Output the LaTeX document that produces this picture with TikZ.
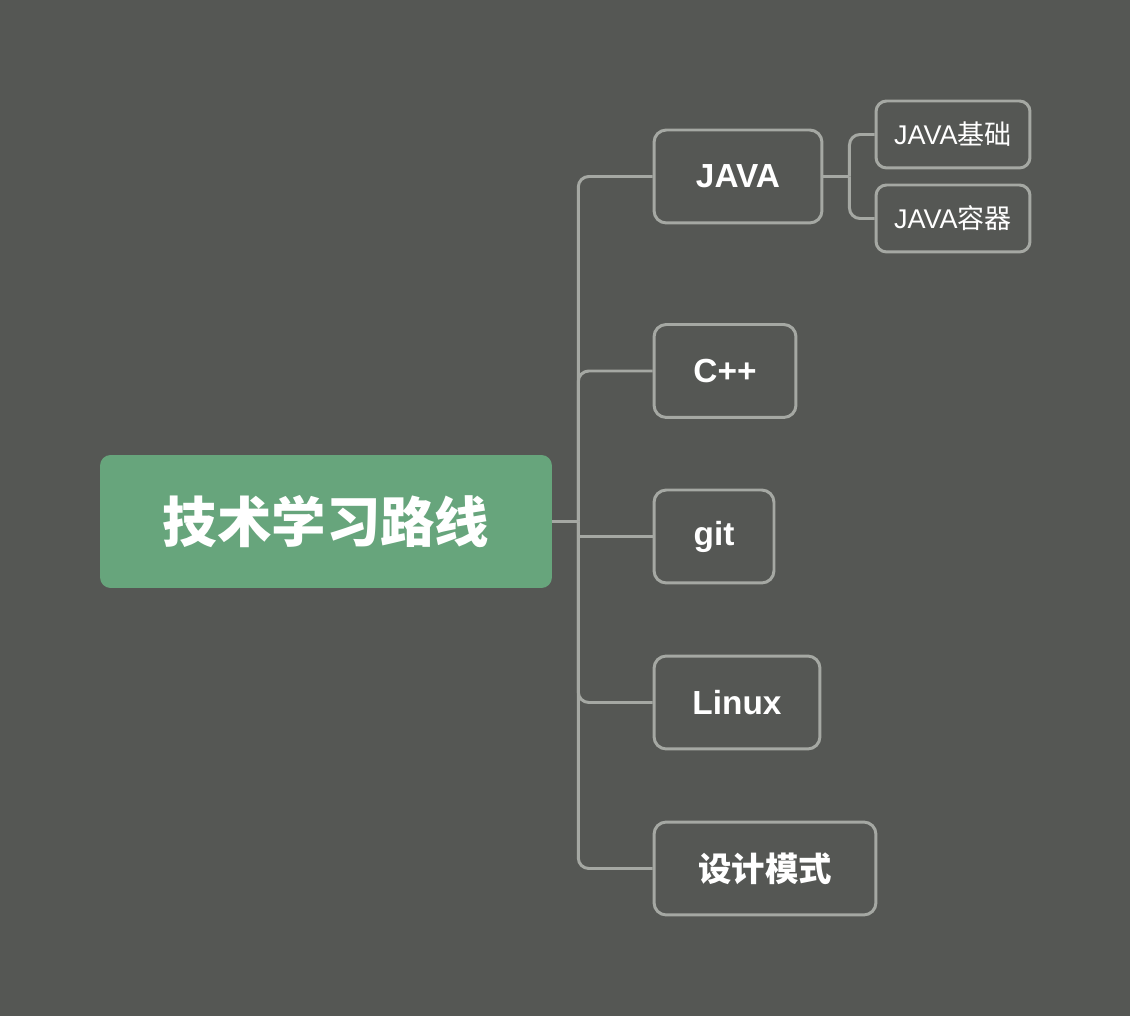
\documentclass[tikz,border=0pt]{standalone}
\usepackage{fontspec}
\setmainfont{Liberation Sans}
\newfontfamily\cjk{Noto Sans CJK SC}
\usepackage{xcolor}
\definecolor{mapBg}{RGB}{85, 87, 84}
\definecolor{mapGreen}{RGB}{103, 165, 124}
\definecolor{mapLine}{RGB}{165, 168, 163}
\usepackage{tikz}
\usetikzlibrary{positioning,calc}

\begin{document}
\begin{tikzpicture}[
  x=0.02cm, y=-0.02cm,
  topic/.style={draw=mapLine, line width=1.7pt, rectangle, rounded corners=7pt,
                minimum height=1.86cm, text=white, font=\fontsize{19}{22}\selectfont\bfseries,
                inner sep=0pt, align=center},
  sub/.style={topic, rounded corners=6pt, minimum width=3.08cm, minimum height=1.34cm,
              font=\fontsize{15.4}{18}\selectfont},
  link/.style={draw=mapLine, line width=1.7pt, rounded corners=6pt},
]
\fill[mapBg] (0,0) rectangle (1130,1016);
\useasboundingbox (0,0) rectangle (1130,1016);

%% ── root ─────────────────────────────────────────────────────
\node[fill=mapGreen, rounded corners=6pt, minimum width=9.04cm, minimum height=2.66cm,
      inner sep=0pt, text=white, font=\fontsize{31}{36}\selectfont\bfseries]
      (root) at (326, 521.5) {\cjk 技术学习路线};

%% ── topics ───────────────────────────────────────────────────
\node[topic, minimum width=3.36cm] (java)  at (738, 176.5) {JAVA};
\node[topic, minimum width=2.84cm] (cpp)   at (725, 371)   {C++};
\node[topic, minimum width=2.40cm] (git)   at (714, 536.5) {git};
\node[topic, minimum width=3.32cm] (linux) at (737, 702.5) {Linux};
\node[topic, minimum width=4.44cm] (dsgn)  at (765, 868.5) {\cjk 设计模式};
\coordinate (hub) at ($(root.east)+(26,0)$);
\draw[link] (root.east) -- (hub);
\foreach \t in {java,cpp,linux,dsgn}
  \draw[link] (hub) |- (\t.west);
\draw[link] (hub |- git.west) -- (git.west);

%% ── JAVA children ────────────────────────────────────────────
\node[sub] (jbase) at (953, 134.5) {JAVA{\cjk 基础}};
\node[sub] (jcoll) at (953, 218.5) {JAVA{\cjk 容器}};
\coordinate (jhub) at ($(java.east)+(26,0)$);
\draw[link] (java.east) -- (jhub);
\draw[link] (jhub) |- (jbase.west);
\draw[link] (jhub) |- (jcoll.west);
\end{tikzpicture}
\end{document}
